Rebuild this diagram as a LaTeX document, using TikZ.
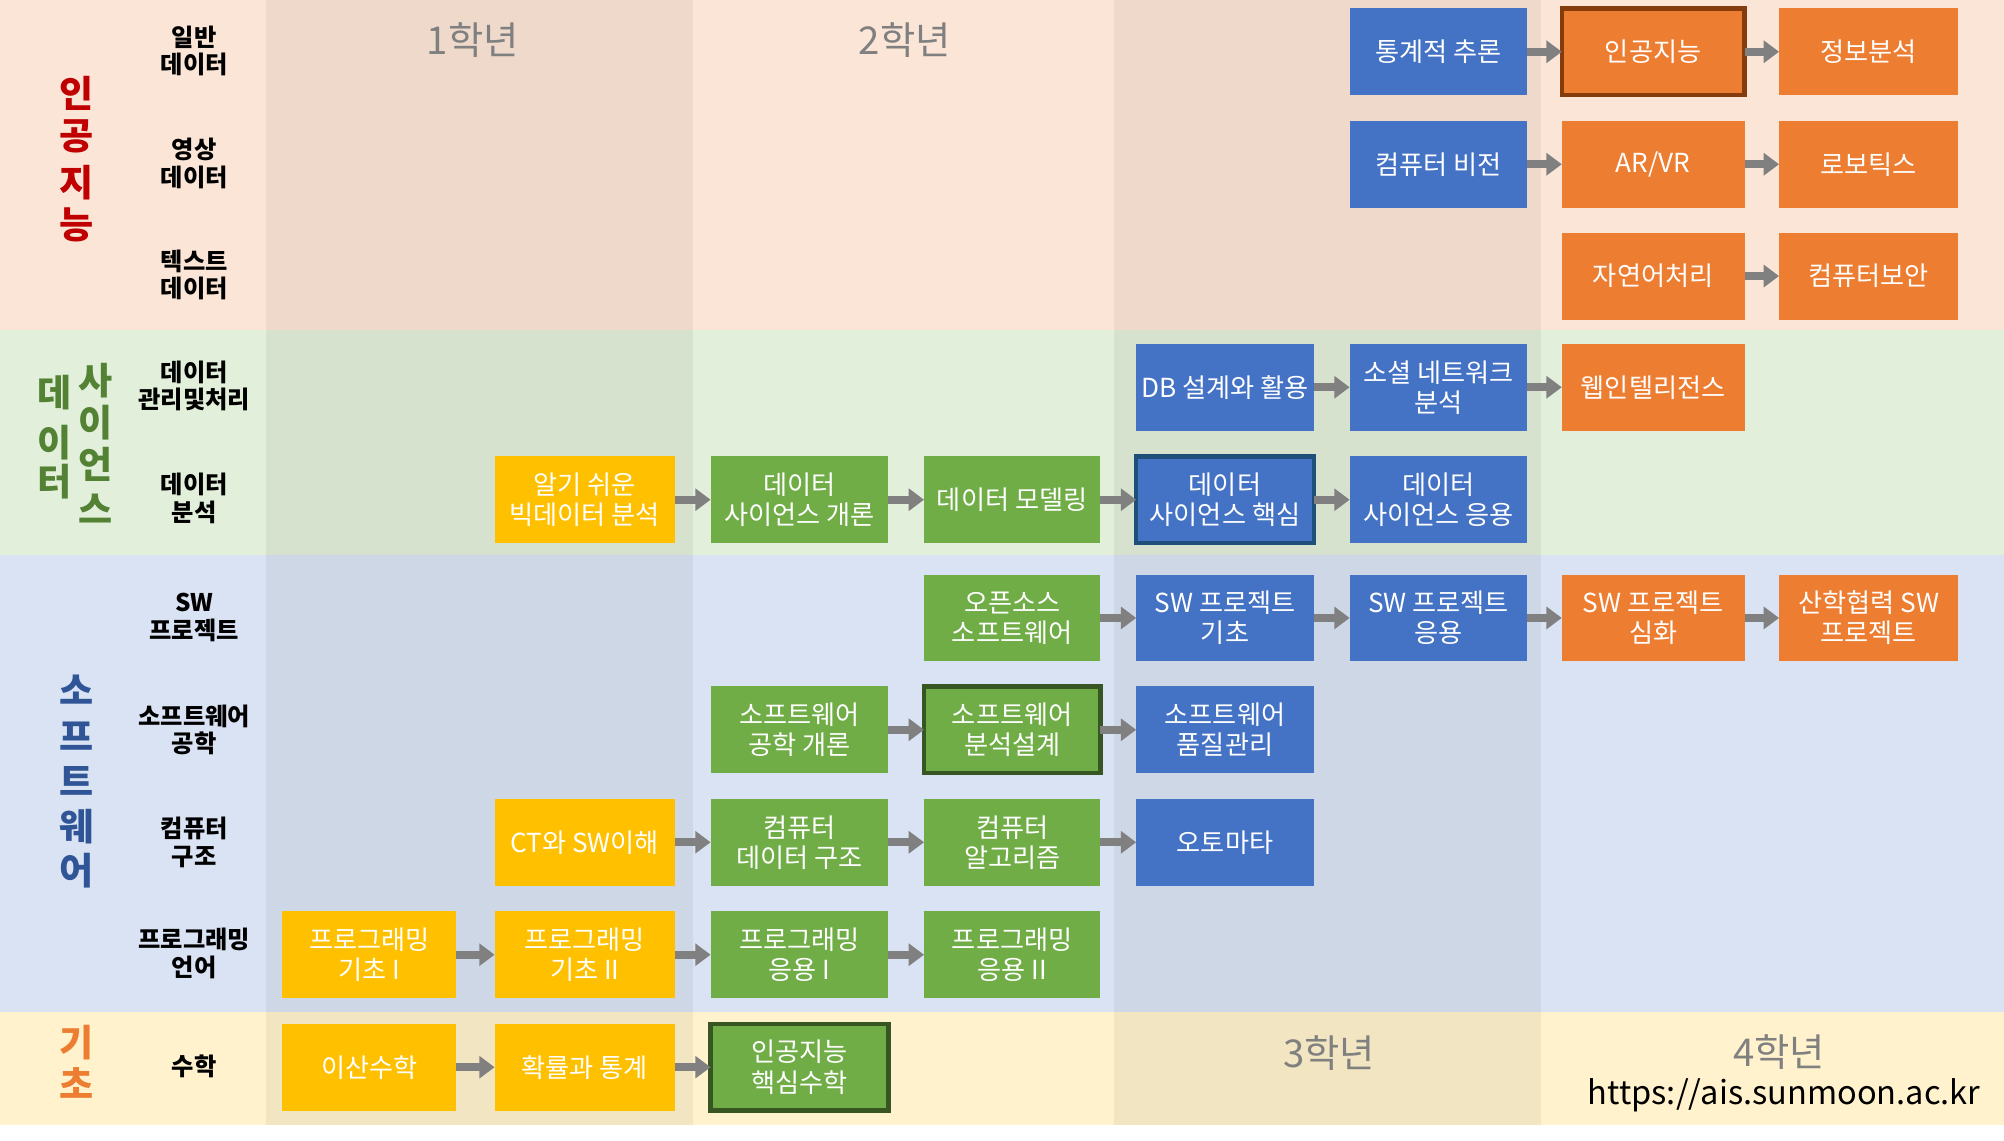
\documentclass[tikz,border=0pt]{standalone}
\usepackage{fontspec}
\usetikzlibrary{arrows.meta}
\newfontfamily\kr{Noto Sans CJK KR}
\definecolor{peach}{HTML}{FBE5D6}
\definecolor{lgreen}{HTML}{E2EFDA}
\definecolor{lblue}{HTML}{DAE3F3}
\definecolor{lyellow}{HTML}{FFF2CC}
\definecolor{bblue}{HTML}{4472C4}
\definecolor{borange}{HTML}{ED7D31}
\definecolor{bgreen}{HTML}{70AD47}
\definecolor{byellow}{HTML}{FFC000}
\definecolor{agray}{HTML}{808080}
\definecolor{cred}{HTML}{C00000}
\definecolor{cgreen}{HTML}{548235}
\definecolor{cblue}{HTML}{2F5597}
\definecolor{corange}{HTML}{ED7D31}
\definecolor{dkorange}{HTML}{843C0C}
\definecolor{dkblue}{HTML}{1F4E79}
\definecolor{dkgreen}{HTML}{375623}
\tikzset{
  box/.style={fill=#1, text=white, minimum width=139pt, minimum height=68pt,
    inner sep=0pt, outer sep=0pt, align=center, font=\kr\fontsize{20.5}{23.5}\selectfont},
  hl/.style={draw=#1, line width=3.5pt},
  arr/.style={draw=agray, line width=6pt, -{Triangle[length=12pt,width=17pt]}},
  rowlab/.style={align=center, inner sep=0pt, font=\kr\bfseries\fontsize{19}{21.5}\selectfont},
  cat/.style={text=#1, inner sep=0pt, font=\kr\bfseries\fontsize{29}{29}\selectfont},
  yearlab/.style={text=agray, inner sep=0pt, font=\kr\fontsize{30}{30}\selectfont},
  shade/.style={fill=black, fill opacity=0.05}
}
\begin{document}
\begin{tikzpicture}[x=1pt,y=-1pt]
\useasboundingbox (0,0) rectangle (1568,892);
% bands
\fill[white] (0,0) rectangle (1568,892);
\fill[peach] (0,0) rectangle (1568,258);
\fill[lgreen] (0,258) rectangle (1568,434);
\fill[lblue] (0,434) rectangle (1568,792);
\fill[lyellow] (0,792) rectangle (1568,880);
\fill[shade] (208,0) rectangle (542,880);
\fill[shade] (872,0) rectangle (1206,880);
% year labels
\node[yearlab] (yr1) at (370,31) {1학년};
\node[yearlab] (yr2) at (708,31) {2학년};
\node[yearlab] (yr3) at (1040,824) {3학년};
\node[yearlab] (yr4) at (1392,823) {4학년};
\node[inner sep=0pt, font=\kr\fontsize{25.5}{25.5}\selectfont] (url) at (1396,857) {https://ais.sunmoon.ac.kr};
% category labels
\node[cat=cred] (ai1) at (60,73) {인};
\node[cat=cred] (ai2) at (60,107) {공};
\node[cat=cred] (ai3) at (60,143) {지};
\node[cat=cred] (ai4) at (60,176) {능};
\node[cat=cgreen] (ds1) at (43,307) {데};
\node[cat=cgreen] (ds2) at (43,346) {이};
\node[cat=cgreen] (ds3) at (43,377) {터};
\node[cat=cgreen] (ds4) at (75,298) {사};
\node[cat=cgreen] (ds5) at (75,331) {이};
\node[cat=cgreen] (ds6) at (75,363) {언};
\node[cat=cgreen] (ds7) at (75,398) {스};
\node[cat=cblue] (sw1) at (60,540) {소};
\node[cat=cblue] (sw2) at (60,576) {프};
\node[cat=cblue] (sw3) at (60,611) {트};
\node[cat=cblue] (sw4) at (60,647) {웨};
\node[cat=cblue] (sw5) at (60,681) {어};
\node[cat=corange] (bs1) at (60,816) {기};
\node[cat=corange] (bs2) at (60,847) {초};
% row labels
\node[rowlab] (l1) at (152,40) {일반\\데이터};
\node[rowlab] (l2) at (152,128) {영상\\데이터};
\node[rowlab] (l3) at (152,215) {텍스트\\데이터};
\node[rowlab] (l4) at (152,302) {데이터\\관리및처리};
\node[rowlab] (l5) at (152,390) {데이터\\분석};
\node[rowlab] (l6) at (152,483) {SW\\프로젝트};
\node[rowlab] (l7) at (152,571) {소프트웨어\\공학};
\node[rowlab] (l8) at (152,659) {컴퓨터\\구조};
\node[rowlab] (l9) at (152,746) {프로그래밍\\언어};
\node[rowlab] (l10) at (152,834) {수학};
% row 1
\node[box=bblue] (tong) at (1125.5,40.5) {통계적 추론};
\node[box=borange, minimum width=143pt, hl=dkorange] (ai) at (1293.5,40.5) {인공지능};
\node[box=borange, minimum width=140pt] (info) at (1462,40.5) {정보분석};
% row 2
\node[box=bblue] (cv) at (1125.5,128.5) {컴퓨터 비전};
\node[box=borange, minimum width=143pt] (arvr) at (1293.5,128.5) {AR/VR};
\node[box=borange, minimum width=140pt] (robot) at (1462,128.5) {로보틱스};
% row 3
\node[box=borange, minimum width=143pt] (nlp) at (1293.5,216) {자연어처리};
\node[box=borange, minimum width=140pt] (sec) at (1462,216) {컴퓨터보안};
% row 4
\node[box=bblue] (db) at (958.5,303) {DB 설계와 활용};
\node[box=bblue] (sna) at (1125.5,303) {소셜 네트워크\\분석};
\node[box=borange, minimum width=143pt] (web) at (1293.5,303) {웹인텔리전스};
% row 5
\node[box=byellow, minimum width=141pt] (bigd) at (457.5,391) {알기 쉬운\\빅데이터 분석};
\node[box=bgreen] (dsi) at (625.5,391) {데이터\\사이언스 개론};
\node[box=bgreen, minimum width=138pt] (dm) at (792,391) {데이터 모델링};
\node[box=bblue, hl=dkblue] (dsc) at (958.5,391) {데이터\\사이언스 핵심};
\node[box=bblue] (dsa) at (1125.5,391) {데이터\\사이언스 응용};
% row 6
\node[box=bgreen, minimum width=138pt] (oss) at (792,483.5) {오픈소스\\소프트웨어};
\node[box=bblue] (swb) at (958.5,483.5) {SW 프로젝트\\기초};
\node[box=bblue] (swa) at (1125.5,483.5) {SW 프로젝트\\응용};
\node[box=borange, minimum width=143pt] (swd) at (1293.5,483.5) {SW 프로젝트\\심화};
\node[box=borange, minimum width=140pt] (swi) at (1462,483.5) {산학협력 SW\\프로젝트};
% row 7
\node[box=bgreen] (sei) at (625.5,571) {소프트웨어\\공학 개론};
\node[box=bgreen, minimum width=138pt, hl=dkgreen] (swad) at (792,571) {소프트웨어\\분석설계};
\node[box=bblue] (swq) at (958.5,571) {소프트웨어\\품질관리};
% row 8
\node[box=byellow, minimum width=141pt] (ct) at (457.5,659) {CT와 SW이해};
\node[box=bgreen] (dstr) at (625.5,659) {컴퓨터\\데이터 구조};
\node[box=bgreen, minimum width=138pt] (alg) at (792,659) {컴퓨터\\알고리즘};
\node[box=bblue] (auto) at (958.5,659) {오토마타};
% row 9
\node[box=byellow, minimum width=136pt] (pb1) at (289,747) {프로그래밍\\기초 I};
\node[box=byellow, minimum width=141pt] (pb2) at (457.5,747) {프로그래밍\\기초 II};
\node[box=bgreen] (pa1) at (625.5,747) {프로그래밍\\응용 I};
\node[box=bgreen, minimum width=138pt] (pa2) at (792,747) {프로그래밍\\응용 II};
% row 10
\node[box=byellow, minimum width=136pt] (dmath) at (289,835) {이산수학};
\node[box=byellow, minimum width=141pt] (prob) at (457.5,835) {확률과 통계};
\node[box=bgreen, hl=dkgreen] (aimath) at (625.5,835) {인공지능\\핵심수학};
% arrows
\draw[arr] (tong.east) -- (ai.west);
\draw[arr] (ai.east) -- (info.west);
\draw[arr] (cv.east) -- (arvr.west);
\draw[arr] (arvr.east) -- (robot.west);
\draw[arr] (nlp.east) -- (sec.west);
\draw[arr] (db.east) -- (sna.west);
\draw[arr] (sna.east) -- (web.west);
\draw[arr] (bigd.east) -- (dsi.west);
\draw[arr] (dsi.east) -- (dm.west);
\draw[arr] (dm.east) -- (dsc.west);
\draw[arr] (dsc.east) -- (dsa.west);
\draw[arr] (oss.east) -- (swb.west);
\draw[arr] (swb.east) -- (swa.west);
\draw[arr] (swa.east) -- (swd.west);
\draw[arr] (swd.east) -- (swi.west);
\draw[arr] (sei.east) -- (swad.west);
\draw[arr] (swad.east) -- (swq.west);
\draw[arr] (ct.east) -- (dstr.west);
\draw[arr] (dstr.east) -- (alg.west);
\draw[arr] (alg.east) -- (auto.west);
\draw[arr] (pb1.east) -- (pb2.west);
\draw[arr] (pb2.east) -- (pa1.west);
\draw[arr] (pa1.east) -- (pa2.west);
\draw[arr] (dmath.east) -- (prob.west);
\draw[arr] (prob.east) -- (aimath.west);
\end{tikzpicture}
\end{document}
